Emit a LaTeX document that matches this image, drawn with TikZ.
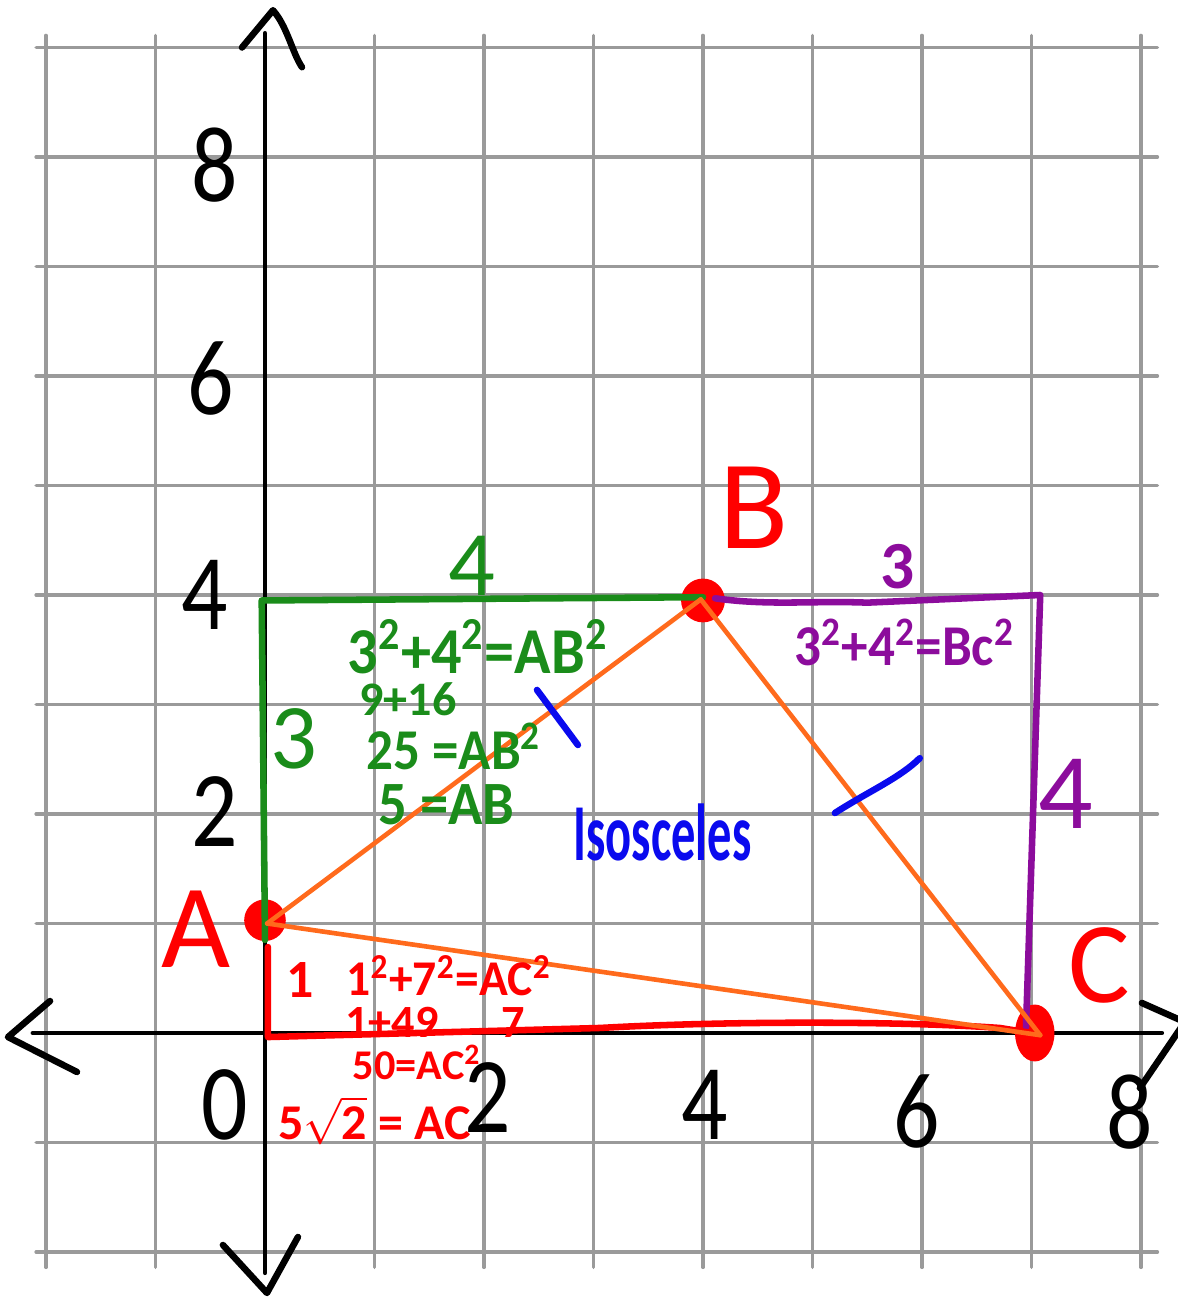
\documentclass[tikz,border=0pt]{standalone}
\usepackage{fontspec}
\setmainfont{Carlito}
\usetikzlibrary{shapes.geometric}
\definecolor{gridgray}{HTML}{9A9A9A}
\definecolor{hgreen}{HTML}{1A8C1A}
\definecolor{hpurple}{HTML}{8C0C9C}
\definecolor{hred}{HTML}{FF0000}
\definecolor{horange}{HTML}{FF6A1C}
\definecolor{hblue}{HTML}{0A0AEE}
\newcommand\fsz[1]{\fontsize{#1}{#1}\selectfont}
\newcommand\fsb[1]{\fontsize{#1}{#1}\selectfont\bfseries}
\newcommand\sqr{\smash{\textsuperscript{2}}}
\begin{document}
\begin{tikzpicture}[x=1cm,y=1cm,line cap=round,line join=round,
  gridline/.style={gridgray,line width=0.9pt},
  axis/.style={black,line width=1.2pt},
  pen/.style={line width=1.7pt},
  oline/.style={horange,line width=1.2pt},
  lbl/.style={inner sep=0pt,outer sep=0pt}]
\useasboundingbox (-2.420,-2.411) rectangle (8.338,9.434);
\fill[white] (-2.420,-2.411) rectangle (8.338,9.434);
% grid
\foreach \i in {-2,...,8} \draw[gridline] (\i,-2.14) -- (\i,9.11);
\foreach \j in {-2,...,9} \draw[gridline] (-2.09,\j) -- (8.15,\j);
% axes
\coordinate (ytop) at (0,9.13);
\coordinate (ybot) at (0,-2.19);
\coordinate (xleft) at (-2.12,0);
\coordinate (xright) at (8.19,0);
\draw[axis] (ybot) -- (ytop);
\draw[axis] (xleft) -- (xright);
\draw[pen,black] (-0.21,9.0) -- (0.073,9.34) .. controls (0.2,9.2) and (0.25,8.95) .. (0.338,8.82);
\draw[pen,black] (-0.384,-1.936) -- (0.018,-2.374) -- (0.301,-1.863);
\draw[pen,black] (-1.963,0.292) -- (-2.347,-0.037) -- (-1.717,-0.356);
\draw[pen,black] (8.009,0.274) -- (8.40,0.10) -- (7.99,-0.502);
% axis labels
\begin{scope}[every node/.style={lbl,font=\fsz{28},xscale=0.85}]
\node (y8) at (-0.457,7.93) {8};
\node (y6) at (-0.50,5.98) {6};
\node (y4) at (-0.55,4.0) {4};
\node (y2) at (-0.457,2.02) {2};
\node (x0) at (-0.365,-0.66) {0};
\node (x2) at (2.03,-0.59) {2};
\node (x4) at (4.02,-0.66) {4};
\node (x6) at (5.95,-0.72) {6};
\node (x8) at (7.9,-0.72) {8};
\end{scope}
% points
\coordinate (A) at (0.02,1.0);
\coordinate (B) at (3.98,3.96);
\coordinate (C) at (7.08,-0.02);
\node[circle,fill=hred,minimum size=0.38cm,inner sep=0] (dotA) at (0,1.03) {};
\node[circle,fill=hred,minimum size=0.40cm,inner sep=0] (dotB) at (4.0,3.95) {};
\node[ellipse,fill=hred,minimum width=0.36cm,minimum height=0.52cm,inner sep=0] (dotC) at (7.03,0) {};
% green right triangle legs
\coordinate (gA) at (0.0,0.85);
\coordinate (gK) at (-0.03,3.95);
\coordinate (gB) at (4.0,3.98);
\draw[pen,hgreen] (gA) -- (gK) -- (gB);
% purple legs
\coordinate (pB) at (4.11,3.97);
\coordinate (pK) at (7.08,4.0);
\coordinate (pC) at (6.95,0.055);
\draw[pen,hpurple] (pB) .. controls (4.6,3.9) and (5.0,3.95) .. (5.5,3.93) -- (pK) -- (pC);
% red legs
\coordinate (rA) at (0.027,0.785);
\coordinate (rK) at (0.027,-0.037);
\coordinate (rC) at (7.0,0.0);
\draw[pen,hred] (rA) -- (rK) -- (3.06,0.046) .. controls (4.2,0.11) and (5.8,0.11) .. (6.71,0.046) -- (rC);
% triangle
\draw[oline] (A) -- (B);
\draw[oline] (B) -- (C);
\draw[oline] (A) -- (C);
% point labels
\node[lbl,hred,font=\fsz{31}] (labA) at (-0.63,0.95) {A};
\node[lbl,hred,font=\fsz{33}] (labB) at (4.47,4.8) {B};
\node[lbl,hred,font=\fsz{30}] (labC) at (7.62,0.62) {C};
% green text
\begin{scope}[every node/.style={lbl,hgreen}]
\node[font=\fsz{24}] (g4) at (1.89,4.27) {4};
\node[font=\fsz{24}] (g3) at (0.265,2.69) {3};
\node[font=\fsb{17},xscale=0.92] (geq1) at (1.945,3.48) {3\sqr+4\sqr=AB\sqr};
\node[font=\fsb{12.5}] (geq2) at (1.306,3.05) {9+16};
\node[font=\fsb{15},xscale=0.92] (geq3) at (1.726,2.58) {25 =AB\sqr};
\node[font=\fsb{16},xscale=0.92] (geq4) at (1.66,2.08) {5 =AB};
\end{scope}
% purple text
\begin{scope}[every node/.style={lbl,hpurple}]
\node[font=\fsb{17.5}] (p3) at (5.78,4.26) {3};
\node[font=\fsb{15},xscale=0.92] (peq) at (5.84,3.53) {3\sqr+4\sqr=Bc\sqr};
\node[font=\fsz{28}] (p4) at (7.31,2.18) {4};
\end{scope}
% red text
\begin{scope}[every node/.style={lbl,hred}]
\node[font=\fsb{14}] (r1) at (0.32,0.48) {1};
\node[font=\fsb{13},xscale=0.95] (req1) at (1.68,0.49) {1\sqr+7\sqr=AC\sqr};
\node[font=\fsb{12}] (req2) at (1.16,0.10) {1+49};
\node[font=\fsb{12}] (r7) at (2.27,0.10) {7};
\node[font=\fsb{11}] (req3) at (1.39,-0.3) {50=AC\sqr};
\node[font=\fsb{13}] (req4) at (1.0,-0.80) {5$\sqrt{\mbox{2}}$ = AC};
\end{scope}
% blue marks
\draw[pen,hblue] (2.484,3.133) -- (2.858,2.63);
\draw[pen,hblue] (5.205,2.009) .. controls (5.5,2.2) and (5.8,2.33) .. (5.98,2.51);
\node[lbl,hblue,font=\fsb{21},xscale=0.6] (iso) at (3.63,1.83) {Isosceles};
\end{tikzpicture}
\end{document}
